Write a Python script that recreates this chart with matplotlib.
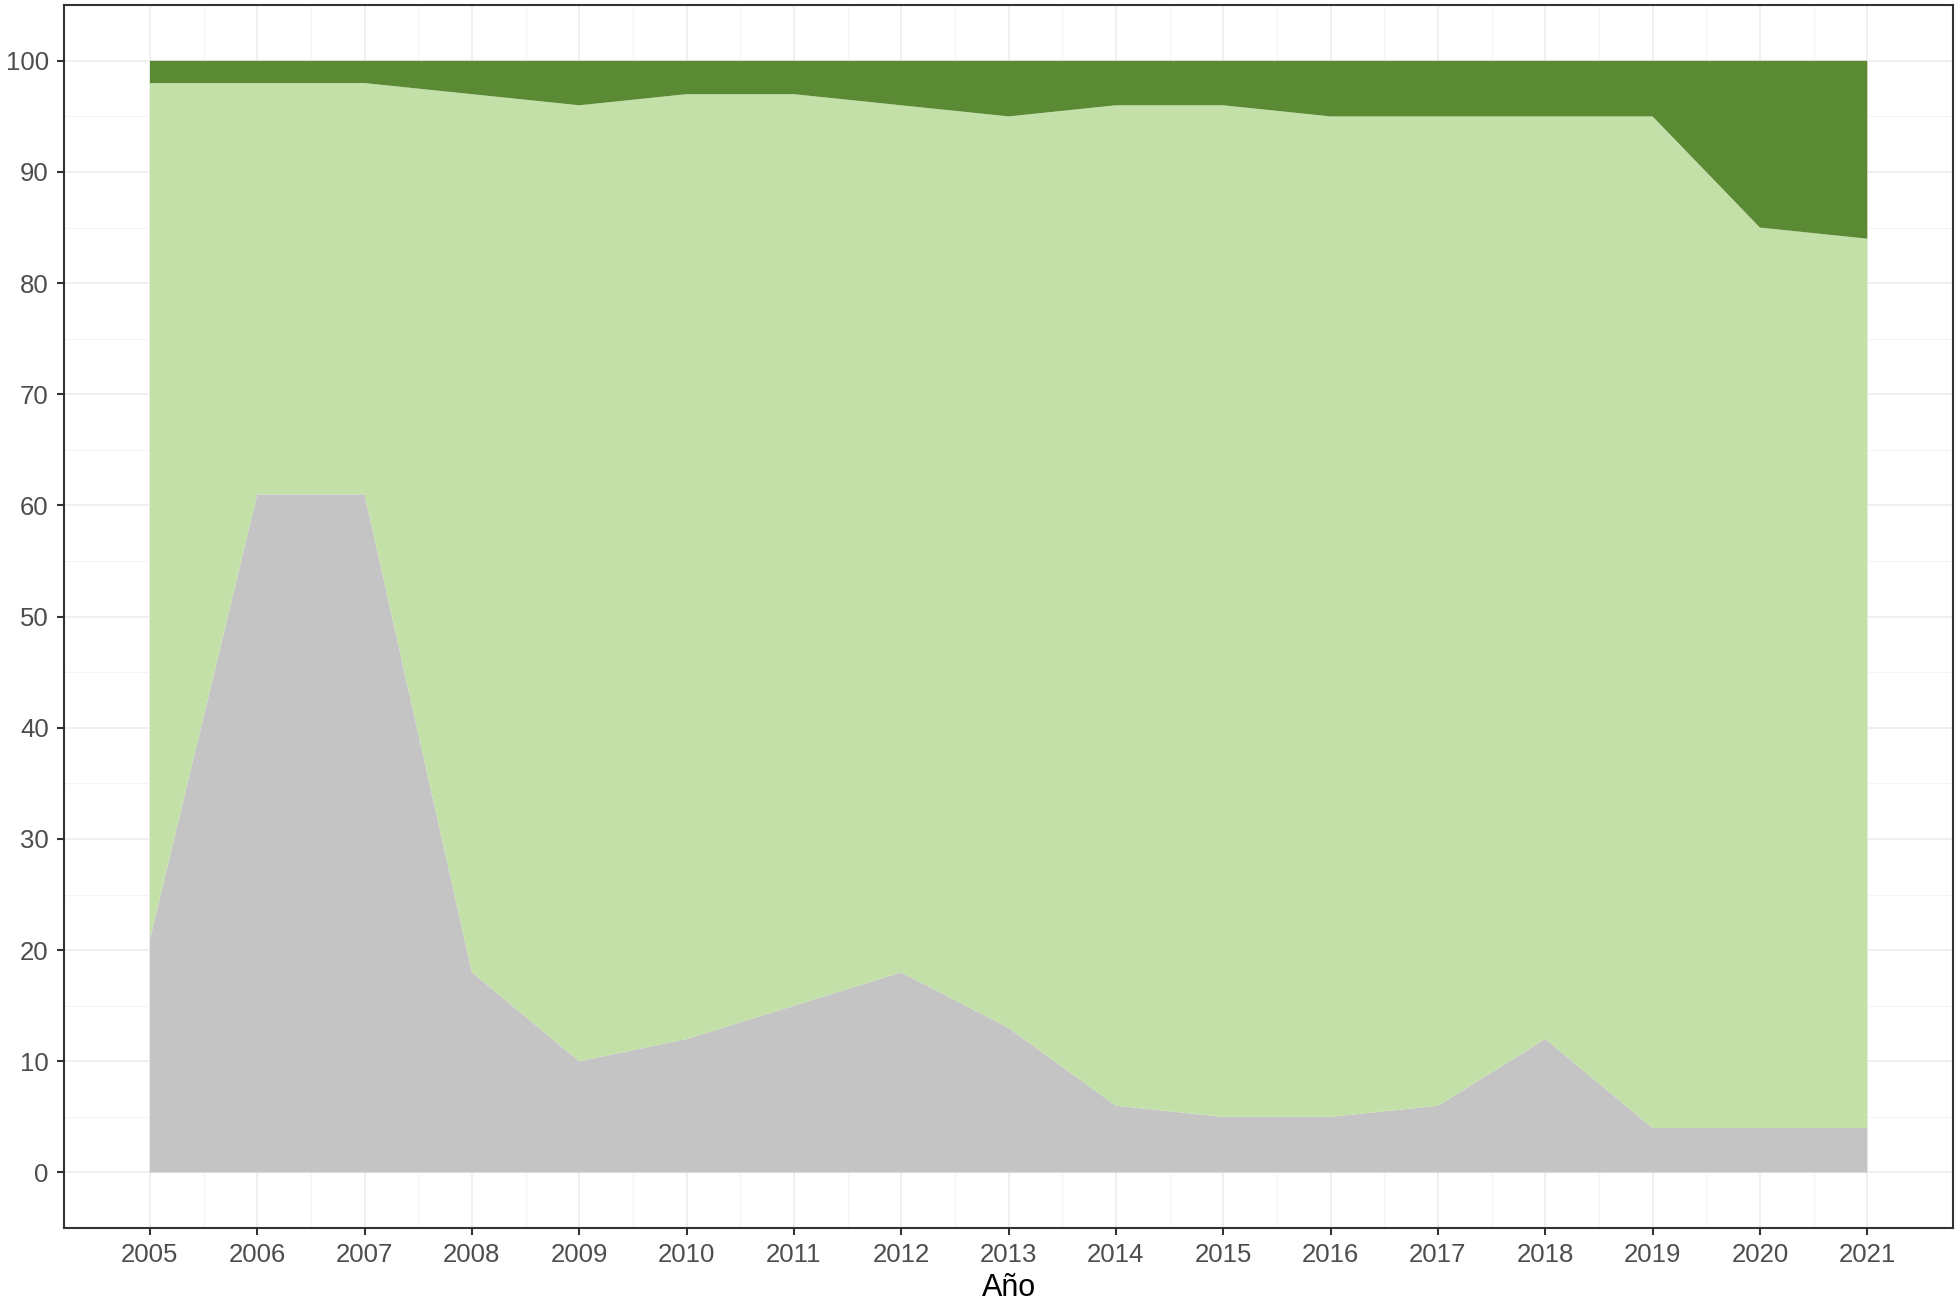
import matplotlib
matplotlib.use("Agg")
import matplotlib.pyplot as plt
import numpy as np

years = [2005, 2006, 2007, 2008, 2009, 2010, 2011, 2012, 2013, 2014, 2015, 2016, 2017, 2018, 2019, 2020, 2021]
gray_share = [21, 61, 61, 18, 10, 12, 15, 18, 13, 6, 5, 5, 6, 12, 4, 4, 4]
light_top = [98, 98, 98, 97, 96, 97, 97, 96, 95, 96, 96, 95, 95, 95, 95, 85, 84]

light_share = [t - g for t, g in zip(light_top, gray_share)]
dark_share = [100 - t for t in light_top]

col_gray = "#c4c4c4"
col_light = "#c3e0a8"
col_dark = "#5b8a35"

plt.rcParams['font.family'] = ['Liberation Sans', 'DejaVu Sans']

fig = plt.figure(figsize=(19.59, 13.12), dpi=100)
ax = fig.add_axes([0.0327, 0.064, 0.9643, 0.932])

ax.stackplot(years, gray_share, light_share, dark_share,
             colors=[col_gray, col_light, col_dark], linewidth=0, zorder=2)

ax.set_xlim(2005 - 0.8, 2021 + 0.8)
ax.set_ylim(-5, 105)
ax.set_xticks(years)
ax.set_yticks(np.arange(0, 101, 10))
ax.set_xticks(np.arange(2005.5, 2021, 1), minor=True)
ax.set_yticks(np.arange(5, 101, 10), minor=True)
ax.grid(True, which='major', color='#efefef', linewidth=1.4, zorder=0)
ax.grid(True, which='minor', color='#f4f4f4', linewidth=0.8, zorder=0)
ax.set_axisbelow(True)
ax.tick_params(which='minor', length=0)
ax.tick_params(which='major', length=5, width=1.5, color='#333333',
               labelsize=18.5, labelcolor='#4d4d4d', pad=6)
for s in ax.spines.values():
    s.set_color('#333333')
    s.set_linewidth(1.5)

ax.set_xlabel('Año', fontsize=22, color='black', labelpad=4)

fig.savefig('out.png', dpi=100)
